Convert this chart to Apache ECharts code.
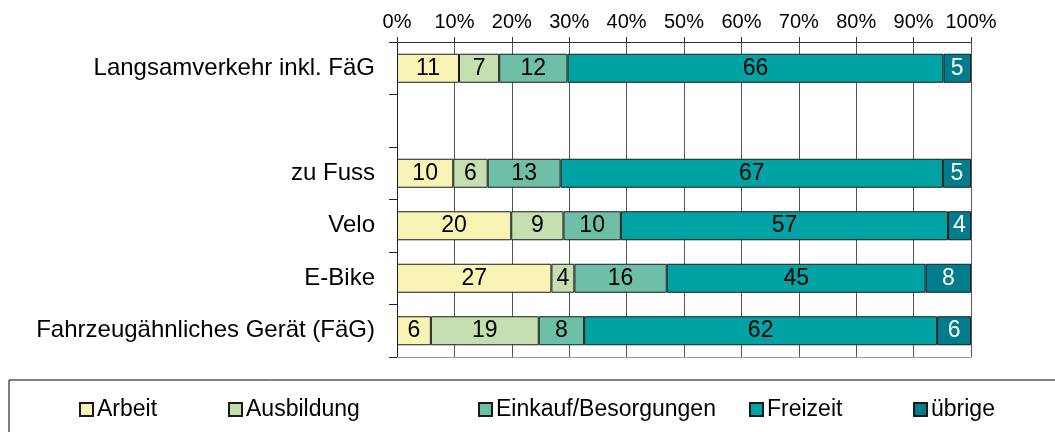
<!DOCTYPE html>
<html>
<head>
<meta charset="utf-8">
<script src="https://cdn.jsdelivr.net/npm/echarts@6/dist/echarts.min.js"></script>
<style>
  html, body { margin: 0; padding: 0; background: #fff; }
  #chart { width: 1055px; height: 432px; }
</style>
</head>
<body>
<div id="chart"></div>
<script>
var categories = ['Langsamverkehr inkl. FäG', '', 'zu Fuss', 'Velo', 'E-Bike', 'Fahrzeugähnliches Gerät (FäG)'];
var seriesNames = ['Arbeit', 'Ausbildung', 'Einkauf/Besorgungen', 'Freizeit', 'übrige'];
// shares in %, one value per category (empty row = '-')
var arbeit     = [10.8, '-', 9.8, 19.9, 26.9, 5.9];
var ausbildung = [7.0, '-', 6.0, 9.1, 4.0, 18.8];
var einkauf    = [11.9, '-', 12.7, 10.0, 16.1, 7.9];
var freizeit   = [65.5, '-', 66.6, 57.0, 45.1, 61.5];
var uebrige    = [4.8, '-', 4.9, 4.0, 7.9, 5.9];
var xTicks = [0, 10, 20, 30, 40, 50, 60, 70, 80, 90, 100];

var colors = ['#F7F4B6', '#C5DFB0', '#6DBFA8', '#00A2A3', '#007C8C'];
var labelColors = ['#000', '#000', '#000', '#000', '#fff'];
var legendLeft = [79, 228, 478, 749, 913];
var font = 'Liberation Sans, Arial, sans-serif';

var values = [arbeit, ausbildung, einkauf, freizeit, uebrige];

var series = seriesNames.map(function(name, i) {
    return {
        name: name,
        type: 'bar',
        stack: 'total',
        barWidth: 29,
        xAxisIndex: 0,
        data: values[i],
        itemStyle: {
            color: colors[i],
            borderColor: '#1a1a1a',
            borderWidth: 1
        },
        label: {
            show: true,
            position: 'inside',
            color: labelColors[i],
            fontFamily: font,
            fontSize: 23,
            formatter: function(p) { return Math.round(p.value); }
        },
        emphasis: { disabled: true }
    };
});

var legends = seriesNames.map(function(name, i) {
    return {
        data: [name],
        left: legendLeft[i],
        top: 398,
        icon: 'rect',
        itemWidth: 13,
        itemHeight: 13,
        itemGap: 0,
        padding: 0,
        textStyle: { fontFamily: font, fontSize: 23, color: '#000', padding: [0, 0, 0, -1] }
    };
});

var myChart = echarts.init(document.getElementById('chart'));
var option = {
    animation: false,
    grid: { left: 397, right: 84, top: 42, height: 315, containLabel: false },
    legend: legends,
    xAxis: [{
        type: 'value',
        position: 'top',
        min: xTicks[0],
        max: xTicks[xTicks.length - 1],
        interval: 10,
        axisLine: { show: true, lineStyle: { color: '#333', width: 1 } },
        axisTick: { show: true, length: 5, lineStyle: { color: '#333' } },
        axisLabel: { fontFamily: font, fontSize: 20, color: '#000', margin: 10, formatter: '{value}%' },
        splitLine: { show: true, lineStyle: { color: '#555', width: 1 } }
    }, {
        type: 'value',
        position: 'bottom',
        min: 0,
        max: 100,
        axisLine: { show: true, lineStyle: { color: '#999', width: 1 } },
        axisTick: { show: false },
        axisLabel: { show: false },
        splitLine: { show: false }
    }],
    yAxis: {
        type: 'category',
        inverse: true,
        data: categories,
        axisLine: { show: true, lineStyle: { color: '#222', width: 1 } },
        axisTick: { show: true, length: 8, lineStyle: { color: '#222' } },
        axisLabel: { fontFamily: font, fontSize: 24, color: '#000', margin: 22 }
    },
    graphic: [{
        type: 'rect',
        shape: { x: 9, y: 380, width: 1100, height: 100 },
        style: { fill: 'none', stroke: '#000', lineWidth: 1 },
        silent: true
    }],
    series: series
};
myChart.setOption(option);
</script>
</body>
</html>
